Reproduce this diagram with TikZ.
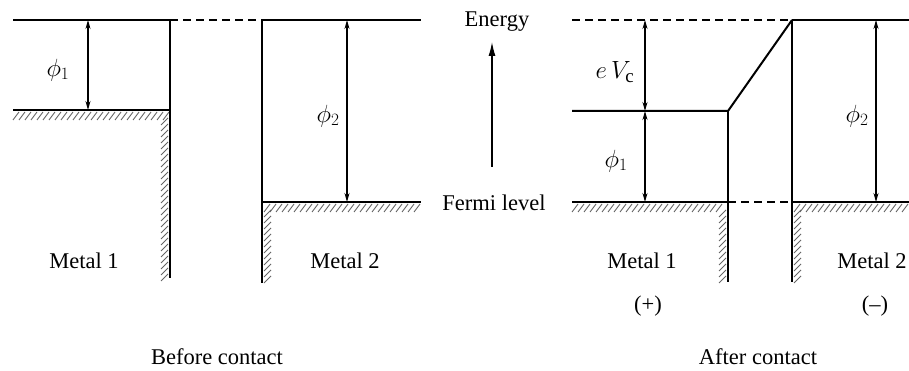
\documentclass[tikz,border=0pt]{standalone}
\usepackage{fontspec}
\setmainfont{Liberation Serif}
\usepackage{amsmath}
\usetikzlibrary{arrows.meta}

\tikzset{
  level/.style={line width=2pt},
  gap/.style={line width=1.6pt, dash pattern=on 8pt off 5pt},
  wall/.style={line width=1.6pt},
  hatching/.style={line width=0.9pt, black!60},
  gauge/.style={{Stealth[length=9pt,width=5pt]}-{Stealth[length=9pt,width=5pt]}, line width=1.1pt},
  lbl/.style={font=\fontsize{22.5}{26}\selectfont, inner sep=0pt},
  sym/.style={font=\fontsize{27}{31}\selectfont, inner sep=0pt},
}

\begin{document}
\begin{tikzpicture}[x=1pt,y=-1pt]
\useasboundingbox (0,0) rectangle (909,371);
% before contact
\coordinate (aTop) at (13,20);
\coordinate (aEdge) at (170,20);
\coordinate (aFermi) at (13,110);
\coordinate (aCorner) at (170,110);
\coordinate (aBottom) at (170,278);
\coordinate (bEdge) at (262,20);
\coordinate (bTop) at (421,20);
\coordinate (bCorner) at (262,202);
\coordinate (bFermi) at (421,202);
\coordinate (bBottom) at (262,283);
\foreach \x in {19,25,...,169} \draw [hatching] (\x,112) -- ++(-6,8);
\foreach \y in {118,124,...,274} \draw [hatching] (168,\y) -- ++(-7,7);
\foreach \x in {270,276,...,421} \draw [hatching] (\x,204) -- ++(-6,8);
\foreach \y in {210,216,...,278} \draw [hatching] (271,\y) -- ++(-7,7);
\draw [level] (aTop) -- (aEdge);
\draw [gap] (aEdge) -- (bEdge);
\draw [level] (bEdge) -- (bTop);
\draw [level] (aFermi) -- (aCorner);
\draw [wall] (aEdge) -- (aBottom);
\draw [wall] (bEdge) -- (bBottom);
\draw [level] (bCorner) -- (bFermi);
\coordinate (phiAtop) at (88,20);
\coordinate (phiAbot) at (88,110);
\coordinate (phiBtop) at (347,20);
\coordinate (phiBbot) at (347,202);
\draw [gauge] (phiAtop) -- (phiAbot);
\draw [gauge] (phiBtop) -- (phiBbot);
\node [sym] (phiA) at (58,70) {$\phi_1$};
\node [sym] (phiB) at (328,116) {$\phi_2$};
\node [lbl] (metA) at (84,261) {Metal 1};
\node [lbl] (metB) at (345,261) {Metal 2};
\node [lbl] (before) at (217,357) {Before contact};
% energy axis
\node [lbl] (energy) at (497,22) {Energy};
\node [lbl] (fermi) at (494,203) {Fermi level};
\coordinate (upFrom) at (492,167);
\coordinate (upTo) at (492,42);
\draw [-{Latex[length=14pt,width=7pt]}, line width=1.2pt] (upFrom) -- (upTo);
% after contact
\coordinate (cTop) at (572,20);
\coordinate (cLevel) at (572,111);
\coordinate (cKnee) at (728,111);
\coordinate (cBottom) at (728,282);
\coordinate (cFermi) at (572,202);
\coordinate (cCorner) at (728,202);
\coordinate (dRamp) at (792,20);
\coordinate (dTop) at (909,20);
\coordinate (dCorner) at (792,202);
\coordinate (dFermi) at (909,202);
\coordinate (dBottom) at (792,282);
\foreach \x in {578,584,...,727} \draw [hatching] (\x,204) -- ++(-6,8);
\foreach \y in {210,216,...,276} \draw [hatching] (726,\y) -- ++(-7,7);
\foreach \x in {800,806,...,909} \draw [hatching] (\x,204) -- ++(-6,8);
\foreach \y in {210,216,...,276} \draw [hatching] (801,\y) -- ++(-7,7);
\draw [gap] (cTop) -- (dRamp);
\draw [level] (dRamp) -- (dTop);
\draw [level] (cLevel) -- (cKnee) -- (dRamp);
\draw [wall] (cKnee) -- (cBottom);
\draw [wall] (dRamp) -- (dBottom);
\draw [level] (cFermi) -- (cCorner);
\draw [gap] (cCorner) -- (dCorner);
\draw [level] (dCorner) -- (dFermi);
\coordinate (vcTop) at (645,20);
\coordinate (vcMid) at (645,111);
\coordinate (vcBot) at (645,202);
\coordinate (phiCtop) at (876,20);
\coordinate (phiCbot) at (876,202);
\draw [gauge] (vcTop) -- (vcMid);
\draw [gauge] (vcMid) -- (vcBot);
\draw [gauge] (phiCtop) -- (phiCbot);
\node [sym] (eVc) at (615,72) {$e\,V_{\mathrm{c}}$};
\node [sym] (phiC) at (616,161) {$\phi_1$};
\node [sym] (phiD) at (857,116) {$\phi_2$};
\node [lbl] (metC) at (642,261) {Metal 1};
\node [lbl] (metD) at (872,261) {Metal 2};
\node [lbl] (plus) at (648,306) {(+)};
\node [lbl] (minus) at (875,306) {(--)};
\node [lbl] (after) at (758,357) {After contact};
\end{tikzpicture}
\end{document}
